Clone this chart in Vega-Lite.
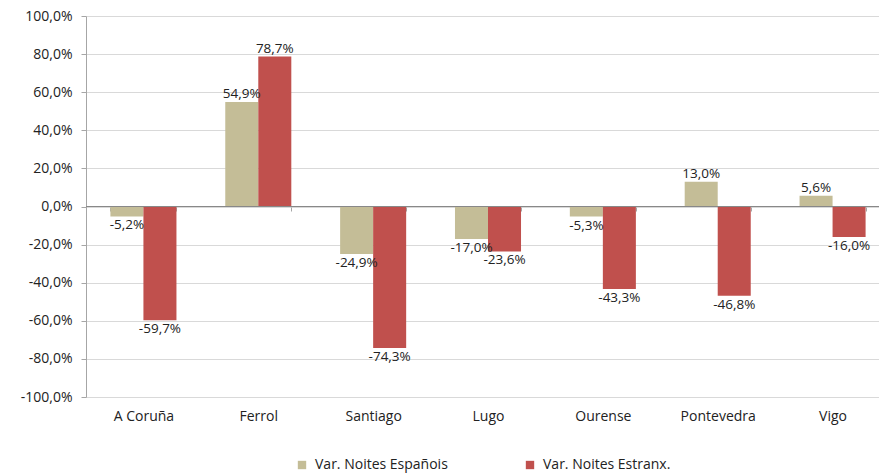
{
  "$schema": "https://vega.github.io/schema/vega-lite/v6.json",
  "width": 793,
  "height": 381,
  "autosize": {"type": "none"},
  "padding": {"left": 86, "top": 16, "right": 0, "bottom": 78},
  "background": "white",
  "config": {
    "locale": {"number": {"decimal": ",", "thousands": ".", "grouping": [3], "currency": ["", " €"], "minus": "-"}},
    "font": "Open Sans",
    "view": {"stroke": null},
    "axis": {"labelFont": "Open Sans", "labelFontSize": 14, "labelColor": "#222"}
  },
  "data": {
    "values": [
      {"cidade": "A Coruña", "serie": "Var. Noites Españois", "v": -0.052},
      {"cidade": "A Coruña", "serie": "Var. Noites Estranx.", "v": -0.597},
      {"cidade": "Ferrol", "serie": "Var. Noites Españois", "v": 0.549},
      {"cidade": "Ferrol", "serie": "Var. Noites Estranx.", "v": 0.787},
      {"cidade": "Santiago", "serie": "Var. Noites Españois", "v": -0.249},
      {"cidade": "Santiago", "serie": "Var. Noites Estranx.", "v": -0.743},
      {"cidade": "Lugo", "serie": "Var. Noites Españois", "v": -0.170},
      {"cidade": "Lugo", "serie": "Var. Noites Estranx.", "v": -0.236},
      {"cidade": "Ourense", "serie": "Var. Noites Españois", "v": -0.053},
      {"cidade": "Ourense", "serie": "Var. Noites Estranx.", "v": -0.433},
      {"cidade": "Pontevedra", "serie": "Var. Noites Españois", "v": 0.130},
      {"cidade": "Pontevedra", "serie": "Var. Noites Estranx.", "v": -0.468},
      {"cidade": "Vigo", "serie": "Var. Noites Españois", "v": 0.056},
      {"cidade": "Vigo", "serie": "Var. Noites Estranx.", "v": -0.160}
    ]
  },
  "encoding": {
    "x": {
      "field": "cidade", "type": "nominal", "sort": null, "title": null,
      "scale": {"paddingInner": 0.425, "paddingOuter": 0.2125, "range": [0, 804]},
      "axis": {"labelAngle": 0, "ticks": true, "tickBand": "extent", "tickSize": 4, "tickColor": "#a6a6a6", "domain": false, "offset": -190, "labelPadding": 198}
    },
    "xOffset": {"field": "serie", "type": "nominal", "sort": ["Var. Noites Españois", "Var. Noites Estranx."]},
    "y": {
      "field": "v", "type": "quantitative", "title": null,
      "scale": {"domain": [-1, 1], "nice": false},
      "axis": {"format": ".1%", "values": [-1, -0.8, -0.6, -0.4, -0.2, 0, 0.2, 0.4, 0.6, 0.8, 1], "gridColor": "#d9d9d9", "domainColor": "#a6a6a6", "tickColor": "#a6a6a6", "tickSize": 5, "labelPadding": 9}
    }
  },
  "layer": [
    {
      "mark": {"type": "bar"},
      "encoding": {
        "color": {
          "field": "serie", "type": "nominal",
          "scale": {"domain": ["Var. Noites Españois", "Var. Noites Estranx."], "range": ["#c4bd97", "#c0504d"]},
          "legend": {
            "title": null, "orient": "none", "direction": "horizontal",
            "legendX": 209, "legendY": 442,
            "symbolType": "square", "symbolSize": 70, "symbolStrokeWidth": 0,
            "labelFont": "Open Sans", "labelFontSize": 14, "labelColor": "#222",
            "columnPadding": 75, "labelOffset": 6
          }
        }
      }
    },
    {
      "mark": {"type": "rule", "color": "#888888", "strokeWidth": 1},
      "encoding": {"y": {"datum": 0}, "x": null, "xOffset": null}
    },
    {
      "transform": [{"filter": "datum.v >= 0"}],
      "mark": {"type": "text", "baseline": "bottom", "dy": -1, "fontSize": 13.5, "color": "#222"},
      "encoding": {"text": {"field": "v", "format": ".1%"}}
    },
    {
      "transform": [{"filter": "datum.v < 0"}],
      "mark": {"type": "text", "baseline": "top", "dy": 2, "fontSize": 13.5, "color": "#222"},
      "encoding": {"text": {"field": "v", "format": ".1%"}}
    }
  ]
}
